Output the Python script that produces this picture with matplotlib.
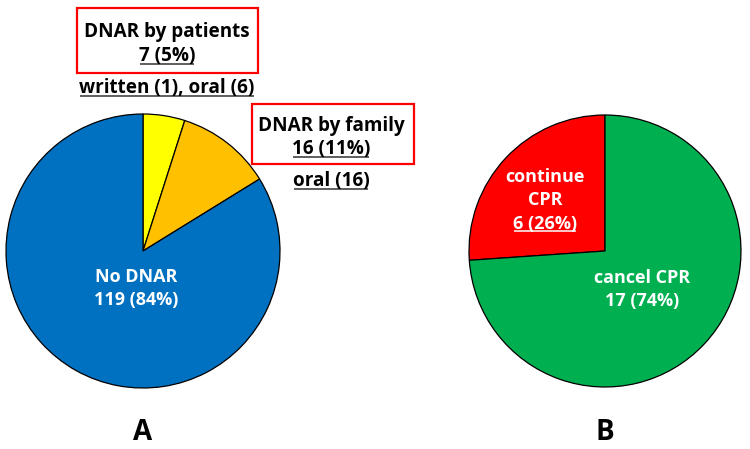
import matplotlib
matplotlib.use('Agg')
import matplotlib.pyplot as plt
from matplotlib.patches import Rectangle

plt.rcParams['font.family'] = ['Open Sans', 'DejaVu Sans']

W, H = 750, 449

# pie A: DNAR status
a_labels = ["DNAR by patients", "DNAR by family", "No DNAR"]
a_counts = [7, 16, 119]
a_pcts = [5, 11, 84]
a_details = ["written (1), oral (6)", "oral (16)", ""]
a_colors = ["#FFFF00", "#FFC000", "#0070C0"]

# pie B: CPR decision
b_labels = ["continue\nCPR", "cancel CPR"]
b_counts = [6, 17]
b_pcts = [26, 74]
b_colors = ["#FF0000", "#00B050"]

fig = plt.figure(figsize=(W / 100, H / 100), dpi=100)
ax = fig.add_axes([0, 0, 1, 1])

wedge = dict(edgecolor='black', linewidth=0.9)
ax.pie(a_counts, colors=a_colors, startangle=90, counterclock=False,
       center=(143, H - 251), radius=137, wedgeprops=wedge, frame=True)
ax.pie(b_counts, colors=b_colors, startangle=90, counterclock=True,
       center=(605, H - 251), radius=136, wedgeprops=wedge, frame=True)
ax.set_xlim(0, W)
ax.set_ylim(0, H)
ax.set_aspect('auto')
ax.axis('off')

fs = 13.6
underlined = []


def txt(x, y, s, color='black', size=fs, ul=False):
    t = ax.text(x, H - y, s, ha='center', va='center', fontsize=size,
                fontweight='bold', color=color)
    if ul:
        underlined.append((t, color))
    return t


def box(x0, y0, x1, y1):
    ax.add_patch(Rectangle((x0, H - y1), x1 - x0, y1 - y0, fill=False,
                           edgecolor='#FF0000', linewidth=1.6, zorder=5))


# labels around pie A
box(77, 8, 258, 73)
txt(167, 32, a_labels[0])
txt(167, 56, f"{a_counts[0]} ({a_pcts[0]}%)", ul=True)
txt(167, 88, a_details[0], ul=True)

box(252, 104, 414, 164)
txt(331, 126, a_labels[1])
txt(331, 149, f"{a_counts[1]} ({a_pcts[1]}%)", ul=True)
txt(331, 181, a_details[1], ul=True)

txt(136, 277, a_labels[2], color='white', size=13)
txt(136, 300, f"{a_counts[2]} ({a_pcts[2]}%)", color='white', size=13)

# labels in pie B
txt(545, 177, b_labels[0].split("\n")[0], color='white', size=13)
txt(545, 200, b_labels[0].split("\n")[1], color='white', size=13)
txt(545, 224, f"{b_counts[0]} ({b_pcts[0]}%)", color='white', ul=True, size=13)
txt(642, 278, b_labels[1], color='white', size=13)
txt(642, 301, f"{b_counts[1]} ({b_pcts[1]}%)", color='white', size=13)

txt(143, 433, "A", size=20)
txt(605, 433, "B", size=20)

# underlines drawn from measured text extents
fig.canvas.draw()
r = fig.canvas.get_renderer()
for t, c in underlined:
    bb = t.get_window_extent(r)
    uc = '#333333' if c == 'black' else c
    ax.plot([bb.x0 + 1, bb.x1 - 1], [bb.y0 + 2, bb.y0 + 2], color=uc, lw=1.1,
            solid_capstyle='butt')

fig.savefig('out.png', dpi=100, facecolor='white')
